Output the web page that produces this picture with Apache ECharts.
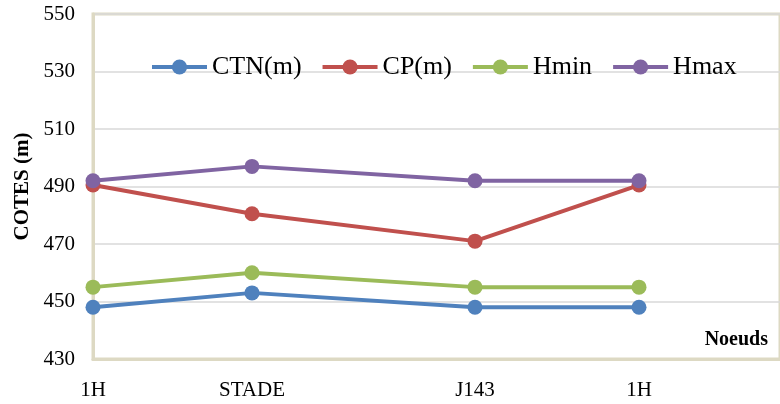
<!DOCTYPE html>
<html>
<head>
<meta charset="utf-8">
<script src="https://cdn.jsdelivr.net/npm/echarts@6/dist/echarts.min.js"></script>
<style>
  html, body { margin: 0; padding: 0; background: #fff; }
  #chart { width: 780px; height: 404px; }
</style>
</head>
<body>
<div id="chart"></div>
<script>
// Nodes along the network and their cumulative position
const nodes = ['1H', 'STADE', 'J143', '1H'];
const positions = [0, 159, 382, 546];

// Elevations (m)
const ctn = [448, 453, 448, 448];
const cp = [490.5, 480.5, 471, 490.5];
const hmin = [455, 460, 455, 455];
const hmax = [492, 497, 492, 492];

const yTicks = [430, 450, 470, 490, 510, 530, 550];

const serif = '"Liberation Serif", "Times New Roman", serif';

function pairs(vals) {
  return positions.map((x, i) => [x, vals[i]]);
}

function lineSeries(name, vals, color) {
  return {
    name: name,
    type: 'line',
    data: pairs(vals),
    symbol: 'circle',
    symbolSize: 15,
    itemStyle: { color: color },
    lineStyle: { color: color, width: 4 },
    emphasis: { disabled: true }
  };
}

const chart = echarts.init(document.getElementById('chart'));
chart.setOption({
  animation: false,
  grid: {
    left: 93, top: 14, right: 0, bottom: 45,
    show: true, borderColor: '#DDD9C3', borderWidth: 3
  },
  legend: {
    top: 49, left: 145,
    itemWidth: 55, itemHeight: 19, itemGap: 19,
    lineStyle: { width: 4 },
    textStyle: { fontFamily: serif, fontSize: 26, color: '#000' },
    data: ['CTN(m)', 'CP(m)', 'Hmin', 'Hmax']
  },
  xAxis: {
    type: 'value',
    min: 0, max: 687,
    splitLine: { show: false },
    axisTick: { show: false },
    axisLine: { show: true, lineStyle: { color: '#DDD9C3', width: 3 } },
    axisLabel: {
      customValues: positions,
      formatter: function (v) {
        const i = positions.indexOf(v);
        return i >= 0 ? nodes[i] : '';
      },
      margin: 21,
      fontFamily: serif, fontSize: 21, color: '#000'
    }
  },
  yAxis: {
    type: 'value',
    min: yTicks[0], max: yTicks[yTicks.length - 1], interval: 20,
    name: 'COTES (m)',
    nameLocation: 'middle',
    nameGap: 60,
    nameTextStyle: { fontFamily: serif, fontSize: 21, fontWeight: 'bold', color: '#000' },
    axisLine: { show: true, lineStyle: { color: '#DDD9C3', width: 3 } },
    axisTick: { show: false },
    splitLine: { lineStyle: { color: '#D9D9D9', width: 1.5 } },
    axisLabel: { margin: 18, fontFamily: serif, fontSize: 21, color: '#000' }
  },
  graphic: [{
    type: 'text',
    right: 12, top: 330,
    style: { text: 'Noeuds', font: 'bold 20px ' + serif, fill: '#000' }
  }],
  series: [
    lineSeries('CTN(m)', ctn, '#4F81BD'),
    lineSeries('CP(m)', cp, '#C0504D'),
    lineSeries('Hmin', hmin, '#9BBB59'),
    lineSeries('Hmax', hmax, '#8064A2')
  ]
});
</script>
</body>
</html>
